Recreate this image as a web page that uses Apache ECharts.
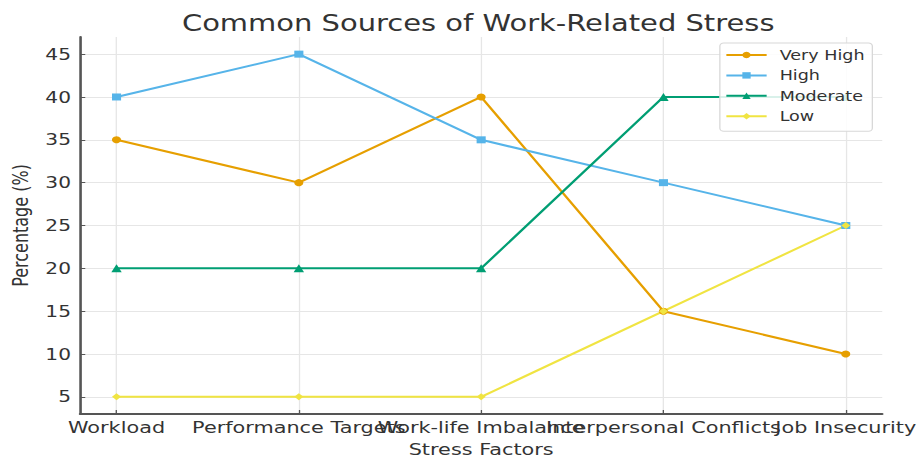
<!DOCTYPE html>
<html>
<head>
<meta charset="utf-8">
<script src="https://cdn.jsdelivr.net/npm/echarts@6/dist/echarts.min.js"></script>
<style>
  html, body { margin: 0; padding: 0; background: #fff; overflow: hidden; }
  #wrap { width: 920px; height: 462px; overflow: hidden; }
  /* the chart is laid out narrow and widened horizontally */
  #chart { width: 708px; height: 462px; transform: scaleX(1.2994); transform-origin: 0 0; }
</style>
</head>
<body>
<div id="wrap"><div id="chart"></div></div>
<script>
const categories = ['Workload', 'Performance Targets', 'Work-life Imbalance', 'Interpersonal Conflicts', 'Job Insecurity'];
const seriesNames = ['Very High', 'High', 'Moderate', 'Low'];
const veryHigh = [35, 30, 40, 15, 10];
const high = [40, 45, 35, 30, 25];
const moderate = [20, 20, 20, 40, 40];
const low = [5, 5, 5, 15, 25];
const yTicks = [5, 10, 15, 20, 25, 30, 35, 40, 45];
const xTicks = [0, 1, 2, 3, 4];
const xMin = -0.2, xMax = 4.2;

const colors = ['#E69F00', '#56B4E9', '#009E73', '#F0E442'];
const symbols = ['circle', 'rect', 'triangle', 'diamond'];
const values = [veryHigh, high, moderate, low];

const chart = echarts.init(document.getElementById('chart'), null, { renderer: 'svg' });
const font = 'DejaVu Sans';
const gridColor = '#e6e6e6';
const spineColor = '#555';

chart.setOption({
  animation: false,
  title: {
    text: 'Common Sources of Work-Related Stress',
    left: 135, top: 7,
    textStyle: { fontFamily: font, fontSize: 22.3, fontWeight: 'normal', color: '#333' }
  },
  grid: { left: 58.5, right: 28.5, top: 37, bottom: 45, containLabel: false },
  legend: {
    orient: 'vertical',
    left: 554, top: 43,
    padding: [5, 6, 8, 4],
    itemWidth: 31, itemHeight: 8, itemGap: 6.4,
    backgroundColor: 'rgba(255,255,255,0.85)',
    borderColor: '#d8d8d8', borderWidth: 1, borderRadius: 3,
    textStyle: { fontFamily: font, fontSize: 13.5, color: '#333', lineHeight: 14, padding: [0, 0, 0, 5] },
    data: seriesNames
  },
  xAxis: {
    type: 'value', min: xMin, max: xMax,
    name: 'Stress Factors', nameLocation: 'middle', nameGap: 27,
    nameTextStyle: { fontFamily: font, fontSize: 16, color: '#333' },
    axisLine: { show: true, onZero: false, lineStyle: { color: spineColor, width: 2 } },
    axisTick: { show: true, inside: true, length: 4, customValues: xTicks, lineStyle: { color: spineColor } },
    axisLabel: {
      // blank end labels keep every category label clear of the min/max label rules
      customValues: [xMin].concat(xTicks, [xMax]),
      margin: 5, hideOverlap: false,
      fontFamily: font, fontSize: 16, color: '#333',
      formatter: v => (Number.isInteger(v) ? categories[v] : '')
    },
    splitLine: { show: true, lineStyle: { color: gridColor, width: 1 } }
  },
  yAxis: {
    type: 'value', min: 3, max: 47,
    name: 'Percentage (%)', nameLocation: 'middle', nameGap: 35,
    nameTextStyle: { fontFamily: font, fontSize: 16, color: '#333' },
    axisLine: { show: true, onZero: false, lineStyle: { color: spineColor, width: 2 } },
    axisTick: { show: true, inside: true, length: 4, customValues: yTicks, lineStyle: { color: spineColor } },
    axisLabel: { customValues: yTicks, margin: 7, fontFamily: font, fontSize: 15.5, color: '#333' },
    splitLine: { show: true, lineStyle: { color: gridColor, width: 1 } }
  },
  series: seriesNames.map((name, k) => ({
    name: name,
    type: 'line',
    data: values[k].map((v, i) => [xTicks[i], v]),
    symbol: symbols[k],
    symbolSize: k === 2 ? 8 : 7,
    showAllSymbol: true,
    lineStyle: { color: colors[k], width: 2 },
    itemStyle: { color: colors[k] },
    z: 2
  }))
});
</script>
</body>
</html>
